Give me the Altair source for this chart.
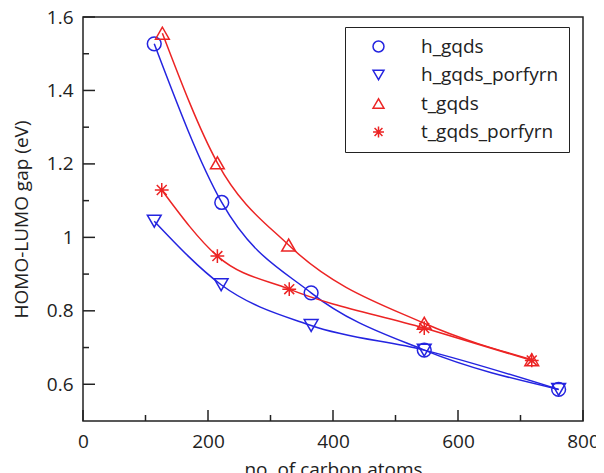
import altair as alt
import pandas as pd

series_names = ["h_gqds", "h_gqds_porfyrn", "t_gqds", "t_gqds_porfyrn"]

h_gqds_x = [114, 222, 365, 546, 761]
h_gqds_y = [1.527, 1.095, 0.849, 0.693, 0.586]

h_gqds_porfyrn_x = [114, 221, 365, 546, 761]
h_gqds_porfyrn_y = [1.044, 0.871, 0.760, 0.693, 0.586]

t_gqds_x = [127, 215, 329, 546, 718]
t_gqds_y = [1.556, 1.203, 0.979, 0.766, 0.667]

t_gqds_porfyrn_x = [126, 215, 330, 546, 718]
t_gqds_porfyrn_y = [1.129, 0.949, 0.859, 0.753, 0.665]

x_major = [0, 200, 400, 600, 800]
x_minor = [100, 300, 500, 700]
y_major = [0.6, 0.8, 1.0, 1.2, 1.4, 1.6]
y_minor = [0.7, 0.9, 1.1, 1.3, 1.5]

BLUE = "#2424e0"
RED = "#ec2424"
colors = [BLUE, BLUE, RED, RED]
star = "M0,-1L0,1M-1,0L1,0M-0.72,-0.72L0.72,0.72M-0.72,0.72L0.72,-0.72"
shapes = ["circle", "triangle-down", "triangle-up", star]

rows = []
for name, xs, ys in [
    ("h_gqds", h_gqds_x, h_gqds_y),
    ("h_gqds_porfyrn", h_gqds_porfyrn_x, h_gqds_porfyrn_y),
    ("t_gqds", t_gqds_x, t_gqds_y),
    ("t_gqds_porfyrn", t_gqds_porfyrn_x, t_gqds_porfyrn_y),
]:
    for xv, yv in zip(xs, ys):
        rows.append({"series": name, "atoms": xv, "gap": yv})
df = pd.DataFrame(rows)

xt = pd.DataFrame({"v": x_major + x_minor, "major": [1] * len(x_major) + [0] * len(x_minor)})
yt = pd.DataFrame({"v": y_major + y_minor, "major": [1] * len(y_major) + [0] * len(y_minor)})

W, H = 500, 404
FONT = "Open Sans"
INK = "#222"
xscale = alt.Scale(domain=[0, 800], nice=False, zero=False)
yscale = alt.Scale(domain=[0.5, 1.6], nice=False, zero=False)
color_scale = alt.Scale(domain=series_names, range=colors)
shape_scale = alt.Scale(domain=series_names, range=shapes)

legend_props = dict(title=None, orient="none", legendX=262, legendY=10,
                    strokeColor=INK, padding=10, symbolOffset=14,
                    labelOffset=33, rowPadding=8.5, symbolSize=120,
                    symbolStrokeWidth=1.5, labelFontSize=19,
                    labelFont=FONT, labelColor=INK)

base = alt.Chart(df)

lines_blue = base.transform_filter(
    alt.FieldOneOfPredicate(field="series", oneOf=series_names[:2])
).mark_line(interpolate="monotone", strokeWidth=1.5, color=BLUE).encode(
    x=alt.X("atoms:Q", scale=xscale,
            axis=alt.Axis(values=x_major, ticks=False, domain=False, grid=False,
                          labelFlush=False, title="no. of carbon atoms", labelPadding=11,
                          titlePadding=9)),
    y=alt.Y("gap:Q", scale=yscale,
            axis=alt.Axis(values=y_major, ticks=False, domain=False, grid=False,
                          labelFlush=False, format="~g", title="HOMO-LUMO gap (eV)",
                          labelPadding=10, titlePadding=15)),
    detail="series:N",
)

lines_red = base.transform_filter(
    alt.FieldOneOfPredicate(field="series", oneOf=series_names[2:])
).mark_line(interpolate="monotone", strokeWidth=1.5, color=RED).encode(
    x=alt.X("atoms:Q", scale=xscale),
    y=alt.Y("gap:Q", scale=yscale),
    detail="series:N",
)

points = base.mark_point(filled=False, size=190, strokeWidth=1.5, opacity=1).encode(
    x=alt.X("atoms:Q", scale=xscale),
    y=alt.Y("gap:Q", scale=yscale),
    color=alt.Color("series:N", scale=color_scale, legend=alt.Legend(**legend_props)),
    shape=alt.Shape("series:N", scale=shape_scale, legend=alt.Legend(**legend_props)),
)

xticks_major = alt.Chart(xt).transform_filter("datum.major == 1").mark_rule(color=INK, strokeWidth=1.5).encode(
    x=alt.X("v:Q", scale=xscale), y=alt.value(H), y2=alt.value(H - 11))
xticks_minor = alt.Chart(xt).transform_filter("datum.major == 0").mark_rule(color=INK, strokeWidth=1.5).encode(
    x=alt.X("v:Q", scale=xscale), y=alt.value(H), y2=alt.value(H - 6))
yticks_major = alt.Chart(yt).transform_filter("datum.major == 1").mark_rule(color=INK, strokeWidth=1.5).encode(
    y=alt.Y("v:Q", scale=yscale), x=alt.value(0), x2=alt.value(12))
yticks_minor = alt.Chart(yt).transform_filter("datum.major == 0").mark_rule(color=INK, strokeWidth=1.5).encode(
    y=alt.Y("v:Q", scale=yscale), x=alt.value(0), x2=alt.value(6))

chart = (
    alt.layer(lines_blue, lines_red, points, xticks_major, xticks_minor, yticks_major, yticks_minor)
    .properties(width=W, height=H,
                autosize=alt.AutoSizeParams(type="none"),
                padding={"left": 75, "top": 9, "right": 13, "bottom": 60})
    .configure_view(stroke=INK, strokeWidth=1.5)
    .configure_axis(labelFont=FONT, titleFont=FONT, labelFontSize=19, titleFontSize=19,
                    labelColor=INK, titleColor=INK, titleFontWeight="normal")
    .configure_legend(labelFont=FONT)
)

chart.save("out.html", embed_options={"renderer": "svg", "actions": False})
